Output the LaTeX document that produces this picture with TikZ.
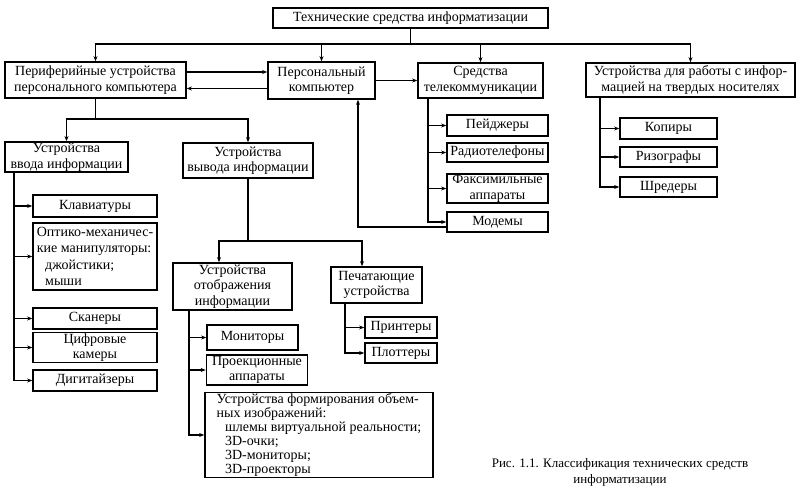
\documentclass[tikz,border=0pt]{standalone}
\usepackage{fontspec}
\setmainfont{Liberation Serif}
\usetikzlibrary{arrows.meta}
\tikzset{
box/.style={draw, line width=1.7pt, inner sep=1pt, align=center, font=\fontsize{14}{15.5}\selectfont}, % a framed box
leftbox/.style={box, align=left}, % a framed box with text set flush left
link/.style={line width=1.6pt}, % a plain connecting line
arr/.style={link, -{Stealth[length=5pt, width=4pt]}}, % a connecting line with an arrow head
}

\begin{document}
\begin{tikzpicture}[x=1pt, y=-1pt]
\useasboundingbox[fill=white] (0,0) rectangle (798,490);
% first level
\node[box, minimum width=275, minimum height=20] (tsi) at (410.5,18) {Технические средства информатизации};
\node[box, minimum width=181, minimum height=36] (per) at (95.5,80) {Периферийные устройства\\персонального компьютера};
\node[box, minimum width=107, minimum height=37] (pk) at (321.5,80.5) {Персональный\\компьютер};
\node[box, minimum width=125, minimum height=35] (tel) at (480.5,80.5) {Средства\\телекоммуникации};
\node[box, minimum width=209, minimum height=34] (tn) at (690.5,80) {Устройства для работы с инфор-\\мацией на твердых носителях};
% peripherals
\node[box, minimum width=123, minimum height=30] (inp) at (66.5,157) {Устройства\\ввода информации};
\node[box, minimum width=130, minimum height=35] (out) at (248,160.5) {Устройства\\вывода информации};
\node[box, minimum width=124, minimum height=22] (kbd) at (95,206) {Клавиатуры};
\node[leftbox, minimum width=124, minimum height=67, font=\fontsize{14}{16.5}\selectfont] (opt) at (95,256.5) {Оптико-механичес-\\кие манипуляторы:\\\hspace*{0.6em}джойстики;\\\hspace*{0.6em}мыши};
\node[box, minimum width=124, minimum height=21] (scan) at (95,318.5) {Сканеры};
\node[box, minimum width=124, minimum height=29] (cam) at (95,347.5) {Цифровые\\камеры};
\node[box, minimum width=124, minimum height=21] (dig) at (95,380.5) {Дигитайзеры};
% output devices
\node[box, minimum width=119, minimum height=47] (disp) at (232.5,286.5) {Устройства\\отображения\\информации};
\node[box, minimum width=91, minimum height=36] (prn) at (376.5,285) {Печатающие\\устройства};
\node[box, minimum width=91, minimum height=25] (mon) at (252.5,337.5) {Мониторы};
\node[box, minimum width=101, minimum height=30] (proj) at (257,370) {Проекционные\\аппараты};
\node[leftbox, minimum width=228, minimum height=84, font=\fontsize{14}{14}\selectfont] (vol) at (319,435) {Устройства формирования объем-\\ных изображений:\\\hspace*{0.6em}шлемы виртуальной реальности;\\\hspace*{0.6em}3D-очки;\\\hspace*{0.6em}3D-мониторы;\\\hspace*{0.6em}3D-проекторы};
\node[box, minimum width=72, minimum height=21] (ptr) at (401,327.5) {Принтеры};
\node[box, minimum width=72, minimum height=20] (plt) at (401,353) {Плоттеры};
% telecommunication
\node[box, minimum width=101, minimum height=21] (pag) at (497.5,125.5) {Пейджеры};
\node[box, minimum width=101, minimum height=19] (rad) at (497.5,152.5) {Радиотелефоны};
\node[box, minimum width=101, minimum height=29] (fax) at (497.5,188.5) {Факсимильные\\аппараты};
\node[box, minimum width=101, minimum height=20] (mod) at (497.5,222) {Модемы};
% hard copy devices
\node[box, minimum width=97, minimum height=21] (kop) at (668.5,128.5) {Копиры};
\node[box, minimum width=97, minimum height=20] (riz) at (668.5,157) {Ризографы};
\node[box, minimum width=97, minimum height=20] (shr) at (668.5,187) {Шредеры};
% caption
\node[align=center, font=\fontsize{13}{16}\selectfont] (cap) at (620,472) {Рис. 1.1. Классификация технических средств\\информатизации};

% connectors
\draw[link] (tsi.south) -- ++(0,15) coordinate (b0);
\foreach \n in {per,pk,tel,tn} \draw[arr] (b0) -| (\n.north);
\draw[arr] ([yshift=8pt]per.east) -- ([yshift=8pt]per.east -| pk.west);
\draw[arr] ([yshift=-8pt]pk.west) -- ([yshift=-8pt]pk.west -| per.east);
\draw[arr] (pk.east) -- (tel.west);
\draw[arr] ([yshift=-5pt]mod.west) -| ([xshift=36.5pt]pk.south);
\draw[link] (per.south) -- ++(0,20) coordinate (b1);
\draw[arr] (b1) -| (inp.north);
\draw[arr] (b1) -| (out.north);
\coordinate (b2) at ([xshift=-52.5pt]inp.south);
\foreach \n in {kbd,opt,scan,cam,dig} \draw[arr] (b2) |- (\n.west);
\draw[link] (out.south) -- ++(0,62) coordinate (b3);
\draw[arr] (b3) -| ([xshift=-13.5pt]disp.north);
\draw[arr] (b3) -| ([xshift=-14.5pt]prn.north);
\coordinate (b4) at ([xshift=-43.5pt]disp.south);
\foreach \n in {mon,proj,vol} \draw[arr] (b4) |- (\n.west);
\coordinate (b5) at ([xshift=-31.5pt]prn.south);
\foreach \n in {ptr,plt} \draw[arr] (b5) |- (\n.west);
\coordinate (b6) at ([xshift=-52.5pt]tel.south);
\foreach \n in {pag,rad,fax,mod} \draw[arr] (b6) |- (\n.west);
\coordinate (b7) at ([xshift=-90.5pt]tn.south);
\foreach \n in {kop,riz,shr} \draw[arr] (b7) |- (\n.west);
\end{tikzpicture}
\end{document}
